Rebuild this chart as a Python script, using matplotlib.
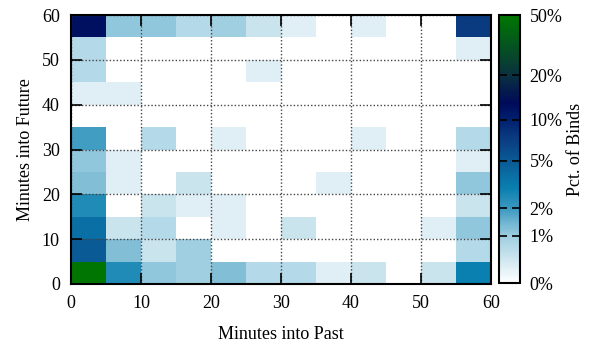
import numpy as np
import matplotlib
matplotlib.use("Agg")
import matplotlib.pyplot as plt
from matplotlib.colors import LinearSegmentedColormap, FuncNorm

plt.rcParams['font.family'] = ['Liberation Serif', 'DejaVu Serif']
plt.rcParams['font.size'] = 13

# bin edges (minutes)
past_edges = np.arange(0, 65, 5)
future_edges = np.arange(0, 65, 5)

# percent of binds, rows = minutes into future (bottom->top), cols = minutes into past
row_00 = [48.0, 2.5, 1.1, 0.95, 1.25, 0.7, 0.7, 0.25, 0.45, 0.0, 0.45, 3.0]
row_05 = [5.0, 1.25, 0.45, 0.95, 0.0, 0.0, 0.0, 0.0, 0.0, 0.0, 0.0, 0.7]
row_10 = [3.8, 0.45, 0.7, 0.0, 0.25, 0.0, 0.45, 0.0, 0.0, 0.0, 0.25, 1.1]
row_15 = [2.5, 0.0, 0.45, 0.25, 0.25, 0.0, 0.0, 0.0, 0.0, 0.0, 0.0, 0.45]
row_20 = [1.25, 0.25, 0.0, 0.45, 0.0, 0.0, 0.0, 0.25, 0.0, 0.0, 0.0, 1.1]
row_25 = [1.1, 0.25, 0.0, 0.0, 0.0, 0.0, 0.0, 0.0, 0.0, 0.0, 0.0, 0.25]
row_30 = [1.9, 0.0, 0.7, 0.0, 0.25, 0.0, 0.0, 0.0, 0.25, 0.0, 0.0, 0.7]
row_35 = [0.0, 0.0, 0.0, 0.0, 0.0, 0.0, 0.0, 0.0, 0.0, 0.0, 0.0, 0.0]
row_40 = [0.25, 0.25, 0.0, 0.0, 0.0, 0.0, 0.0, 0.0, 0.0, 0.0, 0.0, 0.0]
row_45 = [0.7, 0.0, 0.0, 0.0, 0.0, 0.25, 0.0, 0.0, 0.0, 0.0, 0.0, 0.0]
row_50 = [0.7, 0.0, 0.0, 0.0, 0.0, 0.0, 0.0, 0.0, 0.0, 0.0, 0.0, 0.25]
row_55 = [12.0, 1.1, 1.1, 0.7, 0.95, 0.45, 0.25, 0.0, 0.25, 0.0, 0.0, 7.5]

pct = np.array([row_00, row_05, row_10, row_15, row_20, row_25,
                row_30, row_35, row_40, row_45, row_50, row_55])

axis_ticks = [0, 10, 20, 30, 40, 50, 60]
cb_ticks = [0, 1, 2, 5, 10, 20, 50]
cb_labels = ['0%', '1%', '2%', '5%', '10%', '20%', '50%']

# palette (in log1p space fraction)
vmax = 50.0
def tpos(p):
    return np.log1p(p) / np.log1p(vmax)
palette = [
    (0.0, '#ffffff'),
    (tpos(1), '#9ccde0'),
    (tpos(2), '#3a98c0'),
    (tpos(3), '#0a80b0'),
    (tpos(5), '#0a5a95'),
    (tpos(7.5), '#0a3a80'),
    (tpos(10), '#002070'),
    (tpos(13), '#000a5a'),
    (tpos(20), '#0a3040'),
    (1.0, '#007800'),
]
cmap = LinearSegmentedColormap.from_list('binds', palette)
norm = FuncNorm((np.log1p, np.expm1), vmin=0, vmax=vmax)

fig = plt.figure(figsize=(5.9, 3.45), dpi=100)
ax = fig.add_axes([71/590, 1-284/345, 420/590, 269/345])
mesh = ax.pcolormesh(past_edges, future_edges, pct, cmap=cmap, norm=norm)

ax.set_xlim(0, 60)
ax.set_ylim(0, 60)
ax.set_xticks(axis_ticks)
ax.set_yticks(axis_ticks)
ax.tick_params(direction='in', top=True, right=True, length=8, width=1.2, pad=8)
ax.grid(True, linestyle=(0, (1, 1.5)), color='#444444', linewidth=1.0)
for s in ax.spines.values():
    s.set_linewidth(1.5)
ax.set_xlabel('Minutes into Past', labelpad=10)
ax.set_ylabel('Minutes into Future', labelpad=6)

cax = fig.add_axes([499/590, 1-283/345, 21/590, 268/345])
cb = fig.colorbar(mesh, cax=cax, ticks=cb_ticks)
cb.ax.set_yticklabels(cb_labels)
cb.ax.tick_params(direction='in', left=True, right=True, length=6, width=1.2, pad=7)
cb.outline.set_linewidth(1.5)
cb.set_label('Pct. of Binds', labelpad=3)

fig.savefig('out.png', dpi=100)
